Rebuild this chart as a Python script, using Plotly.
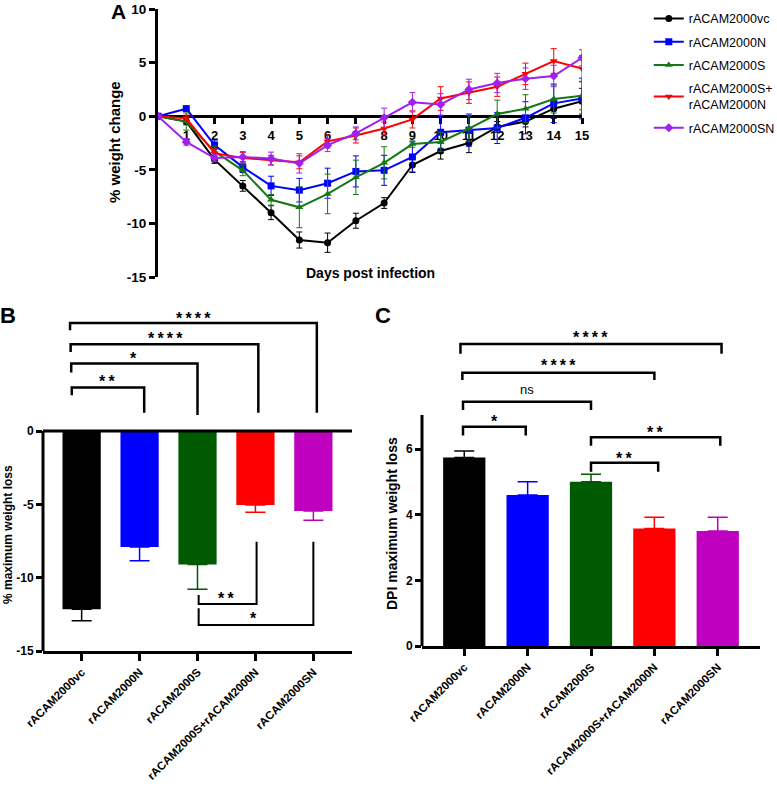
import plotly.graph_objects as go

W, H = 777, 786
FONT = "Liberation Sans"

# ---------------- Panel A data ----------------
days = list(range(16))
day_ticks = list(range(1, 16))
yticks_A = [10, 5, 0, -5, -10, -15]
series_names = ["rACAM2000vc", "rACAM2000N", "rACAM2000S", "rACAM2000S+<br>rACAM2000N", "rACAM2000SN"]
vc = [0, -0.5, -4.05, -6.5, -9.0, -11.55, -11.8, -9.75, -8.1, -4.55, -3.25, -2.5, -1.0, -0.5, 0.7, 1.4]
vc_err = [0, 0.3, 0.35, 0.5, 0.65, 0.75, 0.9, 0.7, 0.5, 0.7, 0.75, 0.9, 0.5, 0.5, 0.9, 1.2]
n_vals = [0, 0.7, -2.7, -4.75, -6.5, -6.9, -6.25, -5.15, -5.05, -3.8, -1.5, -1.3, -1.1, -0.15, 1.2, 1.65]
n_err = [0, 0.25, 0.4, 0.5, 0.9, 1.1, 1.4, 1.45, 1.4, 1.4, 1.5, 1.5, 1.45, 1.5, 1.8, 1.9]
s_vals = [0, -0.5, -3.3, -5.05, -7.8, -8.5, -7.25, -5.7, -4.35, -2.6, -2.4, -1.15, 0.2, 0.7, 1.6, 1.9]
s_err = [0, 0.8, 0.5, 0.5, 0.5, 1.9, 1.85, 1.6, 1.5, 0.3, 0.9, 1.2, 1.3, 1.3, 1.3, 1.3]
spn_vals = [0, -0.2, -3.45, -3.9, -4.1, -4.3, -2.35, -1.8, -1.15, -0.3, 1.65, 2.2, 2.75, 3.95, 5.15, 4.45]
spn_err = [0, 0.3, 0.4, 0.5, 0.45, 0.6, 0.6, 0.7, 0.6, 0.8, 1.1, 1.0, 0.9, 1.0, 1.15, 1.2]
sn_vals = [0, -2.4, -3.9, -3.8, -3.95, -4.4, -2.7, -1.6, -0.15, 1.3, 1.1, 2.5, 3.1, 3.5, 3.75, 5.45]
sn_err = [0, 0.3, 0.3, 0.5, 0.6, 0.9, 0.6, 0.6, 0.9, 0.9, 1.0, 0.95, 0.9, 1.0, 1.0, 0.75]

line_colors = ["#000000", "#0000FF", "#147814", "#FF0000", "#A020F0"]
symbols = ["circle", "square", "triangle-up", "triangle-down", "diamond"]

# ---------------- Panel B / C data ----------------
groups = ["rACAM2000vc", "rACAM2000N", "rACAM2000S", "rACAM2000S+rACAM2000N", "rACAM2000SN"]
max_loss = [-12.15, -7.9, -9.1, -5.05, -5.45]
max_loss_err = [0.78, 0.95, 1.68, 0.48, 0.63]
dpi_max = [5.74, 4.6, 5.0, 3.58, 3.5]
dpi_max_err = [0.2, 0.4, 0.23, 0.34, 0.42]
bar_colors = ["#000000", "#0000FF", "#005A00", "#FF0000", "#BF00BF"]
yticks_B = [0, -5, -10, -15]
yticks_C = [0, 2, 4, 6]

fig = go.Figure()

# ---------------- Panel A traces ----------------
series = [(vc, vc_err), (n_vals, n_err), (s_vals, s_err), (spn_vals, spn_err), (sn_vals, sn_err)]
for i, (vals, errs) in enumerate(series):
    fig.add_trace(go.Scatter(
        x=days, y=vals, mode="lines+markers", name=series_names[i],
        legendgroup=f"g{i}",
        line=dict(color=line_colors[i], width=2),
        marker=dict(symbol=symbols[i], size=7, color=line_colors[i]),
        error_y=dict(type="data", array=errs, visible=True, color=line_colors[i],
                     thickness=1, width=3),
        xaxis="x", yaxis="y",
    ))

xpos = list(range(len(groups)))

# ---------------- Panel B bars ----------------
for i in range(5):
    fig.add_trace(go.Bar(
        x=[xpos[i]], y=[max_loss[i]], width=0.66,
        marker=dict(color=bar_colors[i], line=dict(width=0)),
        error_y=dict(type="data", symmetric=False, array=[0], arrayminus=[max_loss_err[i]],
                     color=bar_colors[i], thickness=1.5, width=10),
        showlegend=False, xaxis="x2", yaxis="y2",
    ))

# ---------------- Panel C bars ----------------
for i in range(5):
    fig.add_trace(go.Bar(
        x=[xpos[i]], y=[dpi_max[i]], width=0.667,
        marker=dict(color=bar_colors[i], line=dict(width=0)),
        error_y=dict(type="data", symmetric=False, array=[dpi_max_err[i]], arrayminus=[0],
                     color=bar_colors[i], thickness=1.5, width=10),
        showlegend=False, xaxis="x3", yaxis="y3",
    ))

boldtick = dict(family=FONT, size=12, color="black", weight="bold")
boldcat = dict(family=FONT, size=11.5, color="black", weight="bold")

# domains
A_x = [158 / W, 582 / W]
A_y = [1 - 277 / H, 1 - 9 / H]
A_zero_pos = A_y[0] + (15 / 25) * (A_y[1] - A_y[0])
B_x = [43 / W, 352 / W]
B_y = [1 - 651 / H, 1 - 305 / H]
C_x = [422 / W, 760 / W]
C_y = [1 - 646 / H, 1 - 317.7 / H]

fig.update_layout(
    width=W, height=H, margin=dict(l=0, r=0, t=0, b=0, autoexpand=False),
    paper_bgcolor="white", plot_bgcolor="white",
    font=dict(family=FONT, color="black"),
    barmode="overlay",
    showlegend=True,
    legend=dict(x=0.835, y=0.995, xanchor="left", yanchor="top",
                font=dict(family=FONT, size=12.5, color="black"),
                traceorder="grouped", tracegroupgap=4, itemwidth=30,
                bgcolor="rgba(0,0,0,0)"),
    xaxis=dict(domain=A_x, range=[0, 15], anchor="free", position=A_zero_pos,
               showline=True, linewidth=3, linecolor="black",
               ticks="outside", ticklen=6, tickwidth=3, tickcolor="black",
               tickvals=day_ticks, ticktext=[str(d) for d in day_ticks],
               tickfont=dict(family=FONT, size=13, color="black", weight="bold"),
               showgrid=False, zeroline=False, layer="below traces"),
    yaxis=dict(domain=A_y, range=[-15, 10], anchor="x",
               showline=True, linewidth=3, linecolor="black",
               ticks="outside", ticklen=6, tickwidth=3, tickcolor="black",
               tickvals=yticks_A, ticktext=[str(v) for v in yticks_A],
               tickfont=dict(family=FONT, size=13.5, color="black", weight="bold"),
               showgrid=False, zeroline=False),
    xaxis2=dict(domain=B_x, range=[-0.667, 4.667], anchor="y2",
                showline=True, linewidth=3, linecolor="black",
                ticks="outside", ticklen=7, tickwidth=3, tickcolor="black",
                tickvals=xpos, ticktext=groups, tickangle=-45, tickfont=boldcat,
                showgrid=False, zeroline=False),
    yaxis2=dict(domain=B_y, range=[-15, 8.6], anchor="x2",
                showline=False, ticks="outside", ticklen=6, tickwidth=2.5, tickcolor="black",
                tickvals=yticks_B, ticktext=[str(v) for v in yticks_B],
                tickfont=boldtick, showgrid=False, zeroline=False),
    xaxis3=dict(domain=C_x, range=[-0.667, 4.667], anchor="y3",
                showline=True, linewidth=3, linecolor="black",
                ticks="outside", ticklen=7, tickwidth=3, tickcolor="black",
                tickvals=xpos, ticktext=groups, tickangle=-45, tickfont=boldcat,
                showgrid=False, zeroline=False),
    yaxis3=dict(domain=C_y, range=[0, 10], anchor="x3",
                showline=False, ticks="outside", ticklen=6, tickwidth=2.5, tickcolor="black",
                tickvals=yticks_C, ticktext=[str(v) for v in yticks_C],
                tickfont=boldtick, showgrid=False, zeroline=False),
)

shapes = []
# Panel B y-axis line (0 to -15) and zero baseline
shapes.append(dict(type="line", xref="x2 domain", yref="y2", x0=0, x1=0, y0=0, y1=-15,
                   line=dict(color="black", width=3)))
shapes.append(dict(type="line", xref="x2 domain", yref="y2", x0=0, x1=1, y0=0, y1=0,
                   line=dict(color="black", width=3)))
# Panel C y-axis line (0 to ~7)
shapes.append(dict(type="line", xref="x3 domain", yref="y3", x0=0, x1=0, y0=0, y1=7.04,
                   line=dict(color="black", width=3)))


def bracket(xr, yr, x1, x2, y, yl1, yl2, w=2.5):
    return dict(type="path", xref=xr, yref=yr,
                path=f"M {x1},{yl1} L {x1},{y} L {x2},{y} L {x2},{yl2}",
                line=dict(color="black", width=w))


annots = []
TS = "\u2009"


def stars(n):
    return TS.join(["*"] * n)


def label(xr, yr, x, y, text, size=16, bold=True, yshift=-5):
    annots.append(dict(xref=xr, yref=yr, x=x, y=y, text=text, showarrow=False,
                       xanchor="center", yanchor="middle", yshift=yshift,
                       font=dict(family=FONT, size=size, color="black",
                                 weight="bold" if bold else "normal")))


# Panel B brackets (top)
b_top = [  # (x1, x2, y, leg1, leg2, n_stars, tx, ty)
    (-0.17, 1.08, 2.98, 2.45, 1.25, 2, 0.43, 3.7),
    (-0.18, 2.0, 4.61, 4.0, 1.09, 1, 0.90, 5.3),
    (-0.19, 3.05, 5.93, 5.4, 1.25, 4, 1.44, 6.65),
    (-0.20, 4.06, 7.38, 6.88, 1.25, 4, 1.93, 8.05),
]
for x1, x2, y, l1, l2, n, tx, ty in b_top:
    shapes.append(bracket("x2", "y2", x1, x2, y, l1, l2))
    label("x2", "y2", tx, ty, stars(n))
# Panel B brackets (bottom)
shapes.append(bracket("x2", "y2", 2.02, 3.02, -11.79, -11.18, -7.55, w=2))
label("x2", "y2", 2.5, -11.1, stars(2))
shapes.append(bracket("x2", "y2", 2.02, 4.0, -13.22, -12.09, -7.55, w=2))
label("x2", "y2", 2.97, -12.45, stars(1))

# Panel C brackets
c_br = [
    (-0.02, 0.97, 6.68, 6.41, 6.41, stars(1), 0.47, 7.0, True),
    (-0.02, 2.0, 7.44, 7.19, 7.19, "ns", 0.99, 7.82, False),
    (-0.03, 3.0, 8.32, 8.1, 8.1, stars(4), 1.48, 8.7, True),
    (-0.06, 4.06, 9.2, 8.9, 8.9, stars(4), 1.99, 9.55, True),
    (2.0, 3.06, 5.58, 5.31, 5.31, stars(2), 2.52, 5.87, True),
    (2.0, 4.04, 6.36, 6.1, 6.1, stars(2), 3.01, 6.67, True),
]
for x1, x2, y, l1, l2, t, tx, ty, bd in c_br:
    shapes.append(bracket("x3", "y3", x1, x2, y, l1, l2))
    label("x3", "y3", tx, ty, t, size=16 if bd else 13, bold=bd, yshift=-5 if bd else 0)


def ptext(x, y, text, size, angle=0, bold=True):
    annots.append(dict(xref="paper", yref="paper", x=x / W, y=1 - y / H, text=text,
                       showarrow=False, xanchor="center", yanchor="middle", textangle=angle,
                       font=dict(family=FONT, size=size, color="black",
                                 weight="bold" if bold else "normal")))


ptext(119, 11, "A", 21)
ptext(8, 316, "B", 22)
ptext(383, 316, "C", 22)
ptext(114, 142, "% weight change", 15, angle=-90)
annots.append(dict(xref="x", yref="paper", x=7.5, y=1 - 273 / H, text="Days post infection",
                   showarrow=False, xanchor="center", yanchor="middle",
                   font=dict(family=FONT, size=14, color="black", weight="bold")))
ptext(8, 535, "% maximum weight loss", 12, angle=-90)
ptext(392, 523, "DPI maximum weight loss", 14, angle=-90)

fig.update_layout(shapes=shapes, annotations=annots)
fig.write_html("out.html", config={"displayModeBar": False},
               post_script="document.body.style.margin='0';document.body.style.overflow='hidden';")
